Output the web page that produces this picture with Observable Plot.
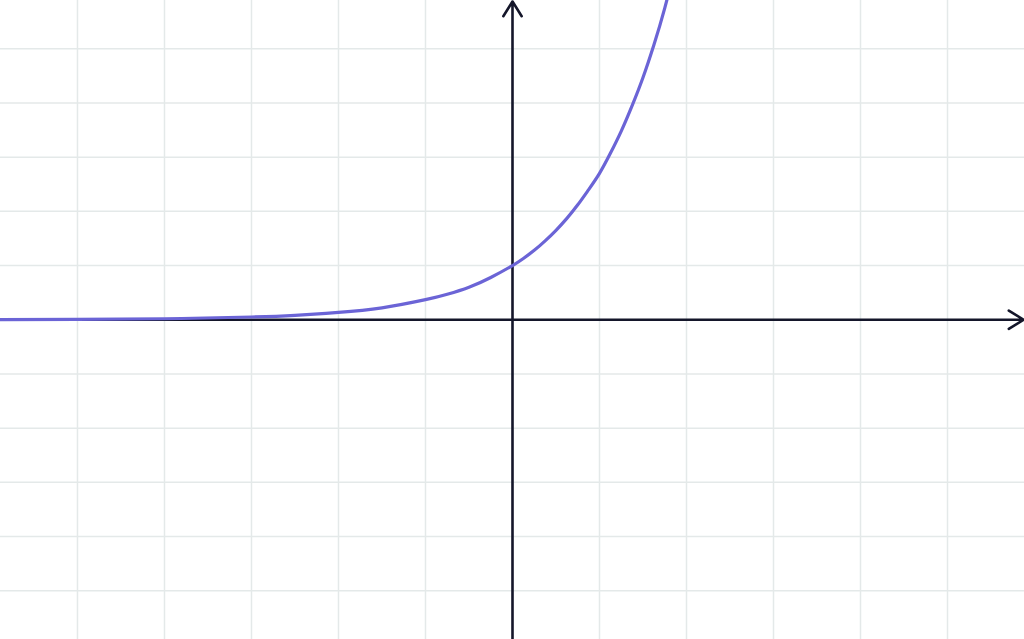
<!DOCTYPE html>
<html>
<head>
<meta charset="utf-8">
<script src="https://cdn.jsdelivr.net/npm/d3@7"></script>
<script src="https://cdn.jsdelivr.net/npm/@observablehq/plot@0.6"></script>
<style>
  html, body { margin: 0; padding: 0; background: #ffffff; overflow: hidden; }
  #chart svg { display: block; }
</style>
</head>
<body>
<div id="chart"></div>
<script>
// Grid positions (integer units)
const xTicks = [-5, -4, -3, -2, -1, 1, 2, 3, 4, 5];
const yTicks = [-5, -4, -3, -2, -1, 1, 2, 3, 4, 5];

// Curve points
const curveX = [-5.9, -5, -4, -3, -2.5, -2, -1.5, -1, -0.75, -0.5, -0.25, 0, 0.125, 0.25, 0.375, 0.5, 0.625, 0.75, 0.875, 1, 1.125, 1.25, 1.375, 1.5, 1.625, 1.75, 1.9];
const curveY = [0.003, 0.007, 0.018, 0.05, 0.082, 0.135, 0.22, 0.37, 0.47, 0.6, 0.78, 1.0, 1.13, 1.28, 1.455, 1.65, 1.87, 2.12, 2.4, 2.7, 3.07, 3.48, 3.95, 4.47, 5.07, 5.75, 6.7];

const xDomain = [-5.885, 5.885];
const yDomain = [-5.9, 5.89];

const curve = curveX.map((x, i) => ({x, y: curveY[i]}));

const chart = Plot.plot({
  width: 1024,
  height: 639,
  margin: 0,
  x: {domain: xDomain, axis: null},
  y: {domain: yDomain, axis: null},
  style: {background: "#ffffff"},
  marks: [
    Plot.ruleX(xTicks, {stroke: "#e4e9e9", strokeWidth: 1.5}),
    Plot.ruleY(yTicks, {stroke: "#e4e9e9", strokeWidth: 1.5}),
    Plot.arrow([{x1: 0, y1: yDomain[0], x2: 0, y2: yDomain[1]}], {
      x1: "x1", y1: "y1", x2: "x2", y2: "y2",
      stroke: "#14162a", strokeWidth: 2.6, headAngle: 64, headLength: 10, insetEnd: 1
    }),
    Plot.arrow([{x1: xDomain[0], y1: 0, x2: xDomain[1], y2: 0}], {
      x1: "x1", y1: "y1", x2: "x2", y2: "y2",
      stroke: "#14162a", strokeWidth: 2.6, headAngle: 64, headLength: 10, insetEnd: 1
    }),
    Plot.line(curve, {x: "x", y: "y", stroke: "#6b64d6", strokeWidth: 3.2, curve: "natural", clip: true})
  ]
});
document.getElementById("chart").appendChild(chart);
</script>
</body>
</html>
